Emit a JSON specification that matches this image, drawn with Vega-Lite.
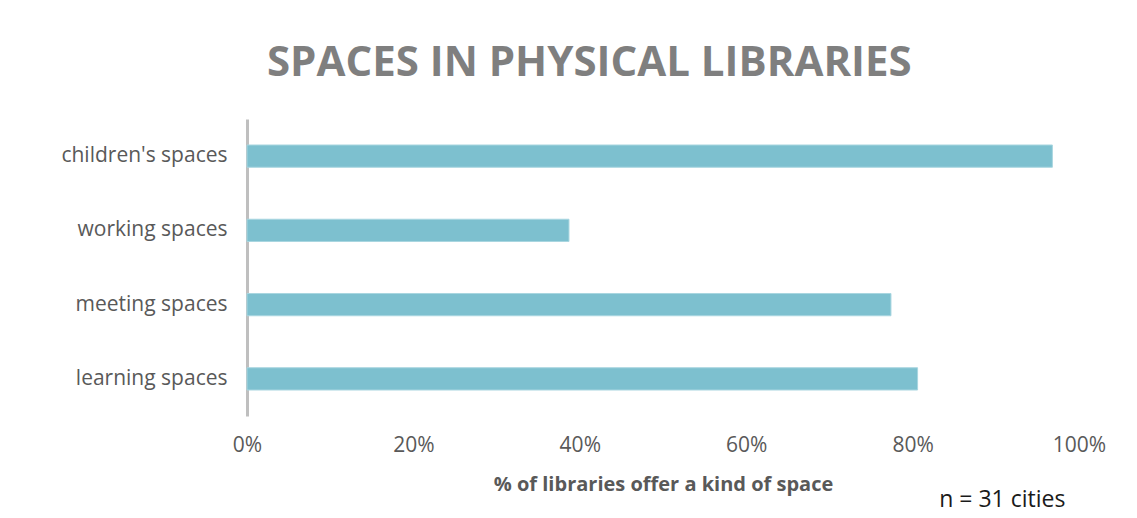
{
  "$schema": "https://vega.github.io/schema/vega-lite/v6.json",
  "width": 832,
  "height": 297,
  "padding": {"left": 60, "top": 42, "right": 10, "bottom": 5},
  "background": "white",
  "title": {
    "text": "SPACES IN PHYSICAL LIBRARIES",
    "font": "Open Sans",
    "fontSize": 42,
    "fontWeight": "bold",
    "color": "#7f7f7f",
    "anchor": "middle",
    "frame": "bounds",
    "dx": 6,
    "offset": 34
  },
  "data": {
    "values": [
      {"space": "children's spaces", "share": 0.968},
      {"space": "working spaces", "share": 0.387},
      {"space": "meeting spaces", "share": 0.774},
      {"space": "learning spaces", "share": 0.806}
    ]
  },
  "encoding": {
    "y": {
      "field": "space",
      "type": "nominal",
      "sort": ["children's spaces", "working spaces", "meeting spaces", "learning spaces"],
      "scale": {"paddingInner": 0.7, "paddingOuter": 0.35},
      "axis": {
        "title": null,
        "ticks": false,
        "domainColor": "#bfbfbf",
        "domainWidth": 3,
        "labelFont": "Open Sans",
        "labelFontSize": 21,
        "labelColor": "#595959",
        "labelPadding": 20
      }
    }
  },
  "layer": [
    {
      "mark": {"type": "bar", "color": "#7dc0cf", "stroke": "#a9d6e0", "strokeWidth": 1},
      "encoding": {
        "x": {
          "field": "share",
          "type": "quantitative",
          "scale": {"domain": [0, 1]},
          "axis": {
            "title": "% of libraries offer a kind of space",
            "titleFont": "Open Sans",
            "titleFontSize": 20,
            "titleFontWeight": "bold",
            "titleColor": "#595959",
            "titlePadding": 19,
            "format": ".0%",
            "values": [0, 0.2, 0.4, 0.6, 0.8, 1],
            "grid": false,
            "domain": false,
            "ticks": false,
            "labelFlush": false,
            "labelFont": "Open Sans",
            "labelFontSize": 21,
            "labelColor": "#595959",
            "labelPadding": 18
          }
        }
      }
    },
    {
      "data": {"values": [{"note": "n = 31 cities", "pos": 0.832, "space": "learning spaces"}]},
      "mark": {"type": "text", "align": "left", "baseline": "alphabetic", "font": "Open Sans", "fontSize": 23, "color": "#1a1a1a", "dy": 128},
      "encoding": {
        "x": {"field": "pos", "type": "quantitative"},
        "text": {"field": "note"}
      }
    }
  ],
  "config": {
    "view": {"stroke": null}
  }
}
